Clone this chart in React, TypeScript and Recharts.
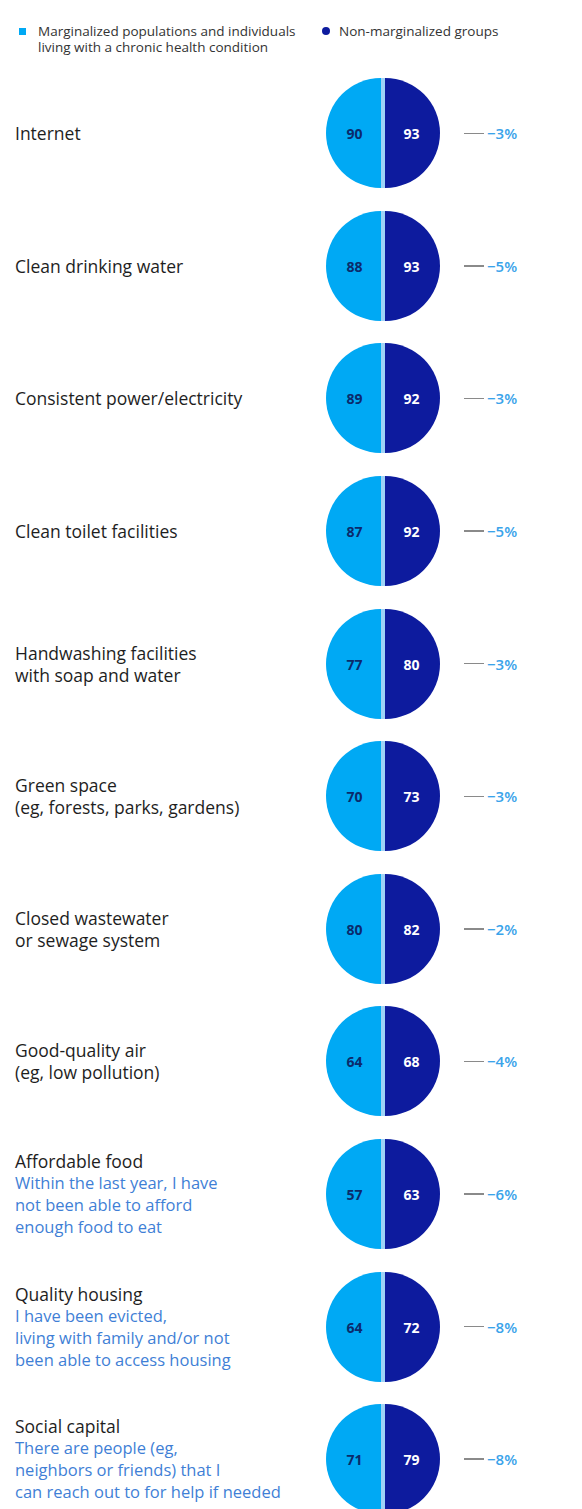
import React from "react";
import { PieChart, Pie, Cell } from "recharts";

const categories = [
  "Internet",
  "Clean drinking water",
  "Consistent power/electricity",
  "Clean toilet facilities",
  "Handwashing facilities\nwith soap and water",
  "Green space\n(eg, forests, parks, gardens)",
  "Closed wastewater\nor sewage system",
  "Good-quality air\n(eg, low pollution)",
  "Affordable food",
  "Quality housing",
  "Social capital",
];

const notes = [
  "",
  "",
  "",
  "",
  "",
  "",
  "",
  "",
  "Within the last year, I have\nnot been able to afford\nenough food to eat",
  "I have been evicted,\nliving with family and/or not\nbeen able to access housing",
  "There are people (eg,\nneighbors or friends) that I\ncan reach out to for help if needed",
];

const marginalized = [90, 88, 89, 87, 77, 70, 80, 64, 57, 64, 71];
const nonMarginalized = [93, 93, 92, 92, 80, 73, 82, 68, 63, 72, 79];
const gaps = ["−3%", "−5%", "−3%", "−5%", "−3%", "−3%", "−2%", "−4%", "−6%", "−8%", "−8%"];

const legendNames = [
  "Marginalized populations and individuals\nliving with a chronic health condition",
  "Non-marginalized groups",
];

const LIGHT = "#00a9f4";
const DARK = "#0d1b9e";
const DIVIDER = "#9fd3f7";
const FONT = "'Open Sans', Arial, sans-serif";

const valueLabel = (color: string) => (props: any) => {
  const { cx, cy, midAngle, outerRadius } = props;
  const v = props.v ?? props.payload?.v;
  const r = outerRadius * 0.48;
  const x = cx + r * Math.cos((-midAngle * Math.PI) / 180);
  return (
    <text
      x={x}
      y={cy}
      fill={color}
      textAnchor="middle"
      dominantBaseline="central"
      fontSize={14}
      fontWeight={700}
      fontFamily={FONT}
    >
      {v}
    </text>
  );
};

const Row = ({ i }: { i: number }) => {
  const left = [{ name: "m", value: 1, v: marginalized[i] }];
  const right = [{ name: "n", value: 1, v: nonMarginalized[i] }];
  const lines = categories[i].split("\n");
  const noteLines = notes[i] ? notes[i].split("\n") : [];
  return (
    <div style={{ display: "flex", alignItems: "center", height: 132.6 }}>
      <div
        style={{
          width: 303,
          paddingLeft: 7,
          fontSize: 17.5,
          lineHeight: "22px",
          color: "#1e1e1e",
        }}
      >
        {lines.map((l, k) => (
          <div key={k}>{l}</div>
        ))}
        {noteLines.map((l, k) => (
          <div key={"n" + k} style={{ color: "#3f7fd6", fontSize: 16.5 }}>
            {l}
          </div>
        ))}
      </div>
      <PieChart width={130} height={132} margin={{ top: 0, right: 0, bottom: 0, left: 0 }}>
        <Pie
          data={[{ name: "bg", value: 1 }]}
          dataKey="value"
          cx={65}
          cy={66}
          outerRadius={55}
          stroke="none"
          fill={DIVIDER}
          isAnimationActive={false}
        />
        <Pie
          data={left}
          dataKey="value"
          cx={63}
          cy={66}
          outerRadius={55}
          startAngle={90}
          endAngle={270}
          stroke="none"
          labelLine={false}
          label={valueLabel("#0b2a6b")}
          isAnimationActive={false}
        >
          <Cell fill={LIGHT} />
        </Pie>
        <Pie
          data={right}
          dataKey="value"
          cx={67}
          cy={66}
          outerRadius={55}
          startAngle={-90}
          endAngle={90}
          stroke="none"
          labelLine={false}
          label={valueLabel("#ffffff")}
          isAnimationActive={false}
        >
          <Cell fill={DARK} />
        </Pie>
      </PieChart>
      <div style={{ display: "flex", alignItems: "center", marginLeft: 16 }}>
        <div style={{ width: 20, height: 1.5, background: "#8a8a8a" }} />
        <span style={{ marginLeft: 3, color: "#3aa3ea", fontSize: 15, fontWeight: 600 }}>
          {gaps[i]}
        </span>
      </div>
    </div>
  );
};

export default function App() {
  return (
    <div style={{ width: 566, fontFamily: FONT }}>
      <div
        style={{
          height: 59,
          display: "flex",
          alignItems: "flex-start",
          paddingTop: 15,
          boxSizing: "border-box",
          fontSize: 13.5,
          lineHeight: "16px",
          color: "#333",
        }}
      >
        <div style={{ display: "flex", alignItems: "flex-start", width: 314 }}>
          <div style={{ width: 7, height: 7, background: LIGHT, margin: "5px 0 0 11px" }} />
          <div style={{ marginLeft: 12, whiteSpace: "nowrap" }}>
            {legendNames[0].split("\n").map((l, k) => (
              <div key={k}>{l}</div>
            ))}
          </div>
        </div>
        <div style={{ display: "flex", alignItems: "flex-start" }}>
          <div
            style={{ width: 8, height: 8, borderRadius: 4, background: DARK, marginTop: 4 }}
          />
          <div style={{ marginLeft: 9, whiteSpace: "nowrap" }}>{legendNames[1]}</div>
        </div>
      </div>
      {categories.map((_, i) => (
        <Row key={i} i={i} />
      ))}
    </div>
  );
}
